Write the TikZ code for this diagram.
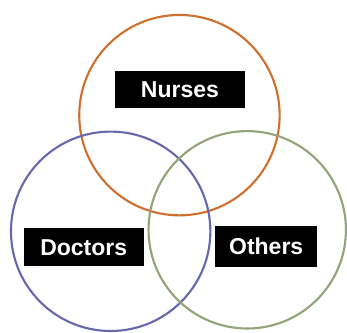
\documentclass[tikz,border=0pt]{standalone}
\usepackage{fontspec}
\setmainfont{Liberation Sans}
\usepackage{xcolor}
\usepackage{tikz}
\usetikzlibrary{positioning}

\definecolor{nurseorange}{RGB}{208,112,46}
\definecolor{doctorblue}{RGB}{104,104,172}
\definecolor{othergreen}{RGB}{146,164,120}

\tikzset{
  ring/.style={line width=1.6pt},
  tag/.style={fill=black, text=white, inner sep=0pt, font=\bfseries\fontsize{17.3}{20}\selectfont}
}

\begin{document}
\begin{tikzpicture}[x=0.75pt,y=0.75pt,yscale=-1,xscale=1]
%set diagram size
\path (0,0) rectangle (347,332);

%Circle: nurses
\draw [ring, color=nurseorange] (180,115.5) circle (100.5) ;
%Circle: doctors
\draw [ring, color=doctorblue] (111,232) circle (100) ;
%Circle: others
\draw [ring, color=othergreen] (248,230.5) circle (99) ;

% Text Node
\node [tag, minimum width=98pt, minimum height=28pt] (nurses) at (180.5,89.5) {Nurses};
% Text Node
\node [tag, minimum width=90pt, minimum height=28.5pt] (doctors) at (84,248) {Doctors};
% Text Node
\node [tag, minimum width=76.5pt, minimum height=30.5pt] (others) at (267,247.5) {Others};

\end{tikzpicture}
\end{document}
